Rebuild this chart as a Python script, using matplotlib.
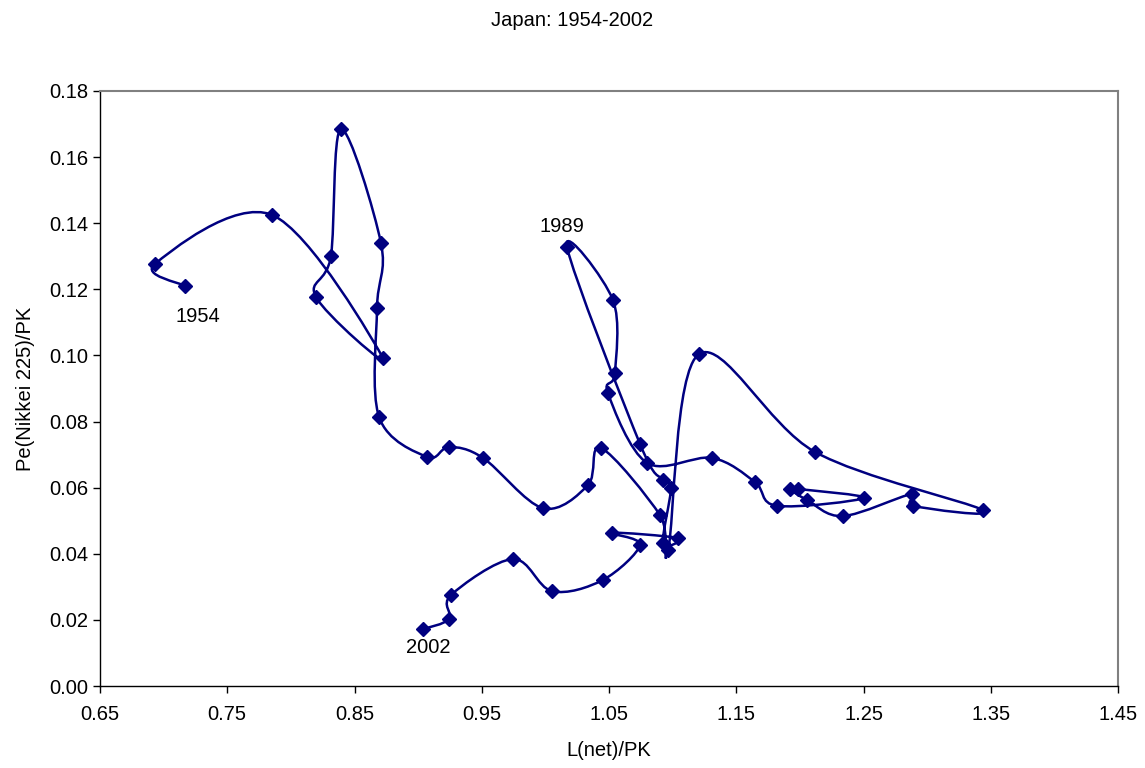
import numpy as np
import matplotlib
matplotlib.use("Agg")
import matplotlib.pyplot as plt
from matplotlib.path import Path
from matplotlib.patches import PathPatch

years = list(range(1954, 2003))
l_net_pk = [0.7168, 0.6932, 0.7852, 0.8724, 0.8197, 0.8315, 0.8394, 0.8708, 0.8677, 0.8693,
            0.9070, 0.9243, 0.9510, 0.9981, 1.0335, 1.0437, 1.0901, 1.0964, 1.1207, 1.2119,
            1.3439, 1.2889, 1.2881, 1.2339, 1.2056, 1.1922, 1.1985, 1.2504, 1.1820, 1.1647,
            1.1309, 1.0799, 1.0492, 1.0547, 1.0531, 1.0170, 1.0744, 1.0924, 1.0987, 1.0924,
            1.1042, 1.0524, 1.0744, 1.0453, 1.0052, 0.9746, 0.9258, 0.9243, 0.9038]
pe_pk = [0.1210, 0.1277, 0.1425, 0.0992, 0.1177, 0.1301, 0.1685, 0.1340, 0.1144, 0.0814,
         0.0693, 0.0723, 0.0690, 0.0538, 0.0608, 0.0720, 0.0517, 0.0411, 0.1004, 0.0708,
         0.0532, 0.0545, 0.0581, 0.0514, 0.0563, 0.0596, 0.0596, 0.0569, 0.0545, 0.0617,
         0.0690, 0.0675, 0.0886, 0.0947, 0.1168, 0.1328, 0.0732, 0.0623, 0.0599, 0.0433,
         0.0448, 0.0463, 0.0427, 0.0321, 0.0287, 0.0384, 0.0275, 0.0203, 0.0172]
labelled_years = [1954, 1989, 2002]
label_offsets = {1954: (9, -22), 1989: (-4, 15), 2002: (4, -13)}

x_ticks = [0.65, 0.75, 0.85, 0.95, 1.05, 1.15, 1.25, 1.35, 1.45]
y_ticks = [0.00, 0.02, 0.04, 0.06, 0.08, 0.10, 0.12, 0.14, 0.16, 0.18]

plt.rcParams['font.family'] = ['Liberation Sans', 'DejaVu Sans']
navy = '#000080'
fs = 14.5

fig = plt.figure(figsize=(11.45, 7.68), dpi=100)
ax = fig.add_axes([100/1145, 82/768, 1018/1145, 595/768])

# Excel-style smoothed line (cubic Bezier through the points)
P = np.column_stack([l_net_pk, pe_pk])
n = len(P)
verts = [P[0]]
codes = [Path.MOVETO]
t = 1.0 / 6.0
for i in range(n - 1):
    p_prev = P[i - 1] if i > 0 else P[i]
    p0 = P[i]
    p1 = P[i + 1]
    p_next = P[i + 2] if i + 2 < n else P[i + 1]
    c1 = p0 + (p1 - p_prev) * t
    c2 = p1 - (p_next - p0) * t
    verts += [c1, c2, p1]
    codes += [Path.CURVE4] * 3
path = Path(verts, codes)
ax.add_patch(PathPatch(path, facecolor='none', edgecolor=navy, lw=1.8, zorder=2))
ax.plot(l_net_pk, pe_pk, linestyle='none', marker='D', markersize=7.3,
        color=navy, zorder=3)

for yr in labelled_years:
    i = years.index(yr)
    ax.annotate(str(yr), xy=(l_net_pk[i], pe_pk[i]), xytext=label_offsets[yr],
                textcoords='offset points', ha='center', va='center', fontsize=fs)

ax.set_xlim(0.65, 1.45)
ax.set_ylim(0.0, 0.18)
ax.set_xticks(x_ticks)
ax.set_xticklabels([f"{v:.2f}" for v in x_ticks])
ax.set_yticks(y_ticks)
ax.set_yticklabels([f"{v:.2f}" for v in y_ticks])
ax.tick_params(labelsize=fs, direction='out', length=5, width=1)
ax.tick_params(axis='x', pad=9)
for s in ['top', 'right']:
    ax.spines[s].set_color('#808080')
    ax.spines[s].set_linewidth(1.5)
for s in ['left', 'bottom']:
    ax.spines[s].set_color('black')
    ax.spines[s].set_linewidth(1)

ax.set_xlabel('L(net)/PK', fontsize=fs, labelpad=12)
ax.set_ylabel('Pe(Nikkei 225)/PK', fontsize=fs, labelpad=10)
fig.text(0.5, 1 - 20/768, 'Japan: 1954-2002', ha='center', va='center', fontsize=fs)

fig.savefig('out.png', dpi=100)
